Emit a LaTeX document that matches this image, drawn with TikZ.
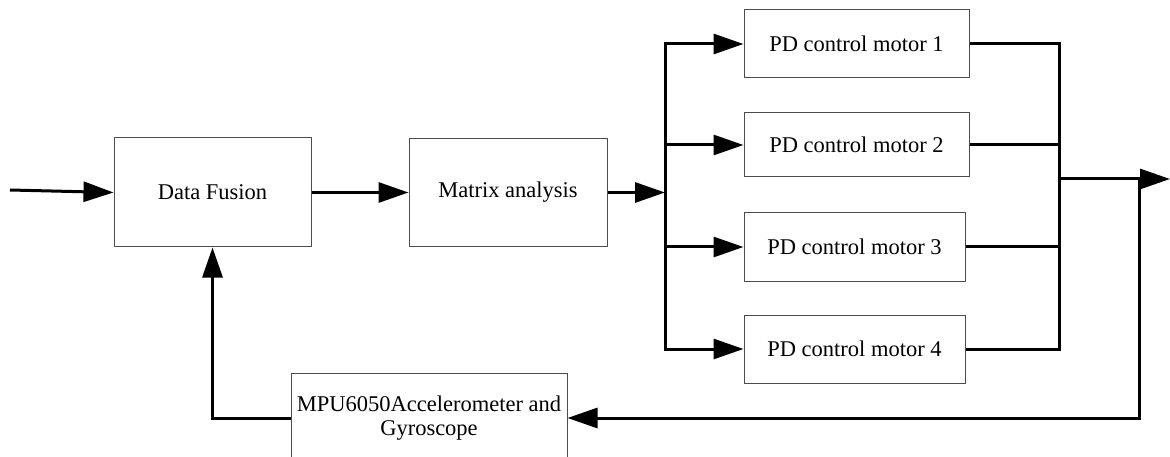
\documentclass[tikz,border=0pt]{standalone}
\usepackage{fontspec}
\setmainfont{Liberation Serif}
\usetikzlibrary{arrows.meta}
\begin{document}
\begin{tikzpicture}[x=1pt,y=-1pt,
  blk/.style={draw=black!70, line width=1pt, rectangle, inner sep=0pt,
    font=\fontsize{22.5}{24}\selectfont, align=center},
  conn/.style={line width=3pt},
  arr/.style={conn, -{Triangle[length=30pt,width=20pt]}}]
\useasboundingbox (0,0) rectangle (1170,457);
\clip (0,0) rectangle (1170,457);
% blocks
\node[blk, minimum width=197pt, minimum height=109pt] (df) at (212.5,192.5) {Data Fusion};
\node[blk, minimum width=198pt, minimum height=108pt] (ma) at (508,192.5) {Matrix analysis};
\node[blk, minimum width=225pt, minimum height=68pt] (m1) at (856.5,44) {PD control motor 1};
\node[blk, minimum width=225pt, minimum height=64pt] (m2) at (856.5,145) {PD control motor 2};
\node[blk, minimum width=221pt, minimum height=68pt] (m3) at (854.5,247) {PD control motor 3};
\node[blk, minimum width=221pt, minimum height=68pt] (m4) at (854.5,349) {PD control motor 4};
\node[blk, minimum width=276pt, minimum height=90pt] (mpu) at (429,418) {MPU6050Accelerometer and\\Gyroscope};
% coordinates
\coordinate (in) at (10,190);
\coordinate (bt) at (665,44);
\coordinate (bb) at (665,349);
\coordinate (bm) at (665,192.5);
\coordinate (rt) at (1059,44);
\coordinate (rb) at (1059,349);
\coordinate (ro) at (1059,179);
\coordinate (fb) at (1139,179);
\coordinate (out) at (1170,179);
% connectors
\draw[arr] (in) -- (df.west);
\draw[arr] (df.east) -- (ma.west);
\draw[arr] (ma.east) -- (bm);
\draw[conn, line cap=rect] (bt) -- (bb);
\draw[arr] (bt) -- (m1.west);
\draw[arr] (bt |- m2.west) -- (m2.west);
\draw[arr] (bt |- m3.west) -- (m3.west);
\draw[arr] (bb) -- (m4.west);
\draw[conn] (m1.east) -- (rt) -- (rb) -- (m4.east);
\draw[conn] (m2.east) -- (rt |- m2.east);
\draw[conn] (m3.east) -- (rt |- m3.east);
\draw[arr] (ro) -- (out);
\draw[arr] (fb) |- (mpu.east);
\draw[arr] (mpu.west) -| (df.south);
\end{tikzpicture}
\end{document}
